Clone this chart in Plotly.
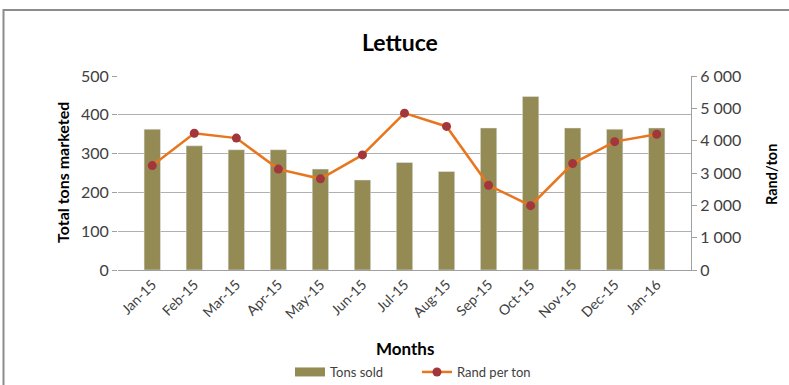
import plotly.graph_objects as go

months = ["Jan-15", "Feb-15", "Mar-15", "Apr-15", "May-15", "Jun-15", "Jul-15",
          "Aug-15", "Sep-15", "Oct-15", "Nov-15", "Dec-15", "Jan-16"]
tons_sold = [363, 320, 310, 310, 260, 232, 277, 254, 366, 447, 366, 363, 366]
rand_per_ton = [3230, 4230, 4080, 3120, 2820, 3560, 4850, 4440, 2620, 1990, 3290, 3970, 4200]
left_ticks = [0, 100, 200, 300, 400, 500]
right_ticks = [0, 1000, 2000, 3000, 4000, 5000, 6000]
right_ticktext = ["0", "1 000", "2 000", "3 000", "4 000", "5 000", "6 000"]

FONT = "Lato"
TXT = "#404040"
OLIVE = "#948A54"

fig = go.Figure()
fig.add_trace(go.Bar(x=months, y=tons_sold, name="Tons sold", marker_color=OLIVE,
                     width=0.39, yaxis="y", showlegend=False))
# legend proxy giving a wide rectangular swatch like the reference
fig.add_trace(go.Scatter(x=[None], y=[None], name="Tons sold", mode="lines",
                         line=dict(color=OLIVE, width=9), yaxis="y"))
fig.add_trace(go.Scatter(x=months, y=rand_per_ton, name="Rand per ton", yaxis="y2",
                         mode="lines+markers",
                         line=dict(color="#E8761E", width=2.5),
                         marker=dict(color="#A3363A", size=9)))

L, R, T, B = 118, 691, 76, 270
W, H = R - L, B - T

def px(x):
    return (x - L) / W

def py(y):
    return (B - y) / H

def ann(text, x, y, size, angle=0):
    return dict(text=text, x=px(x), y=py(y), xref="paper", yref="paper",
                xanchor="center", yanchor="middle", showarrow=False, textangle=angle,
                font=dict(size=size, color="black", family=FONT))

fig.update_layout(
    width=789, height=385,
    margin=dict(l=L, r=789 - R, t=T, b=385 - B, autoexpand=False),
    paper_bgcolor="white", plot_bgcolor="white",
    font=dict(family=FONT, color=TXT, size=14),
    showlegend=True,
    legend=dict(orientation="h", x=px(290), y=py(372), xanchor="left", yanchor="middle",
                font=dict(size=13, color=TXT), traceorder="normal", entrywidth=82,
                entrywidthmode="pixels"),
    xaxis=dict(tickangle=-45, tickfont=dict(size=14, color=TXT), showline=True,
               linecolor="#A0A0A0", ticks="", showgrid=False, automargin=False),
    yaxis=dict(range=[0, 500], tickvals=left_ticks, showgrid=True, gridcolor="#B0B0B0",
               gridwidth=1, zeroline=False, showline=False, ticks="outside", ticklen=5,
               tickcolor="#A0A0A0", tickfont=dict(size=16, color=TXT), automargin=False),
    yaxis2=dict(range=[0, 6000], tickvals=right_ticks, ticktext=right_ticktext,
                overlaying="y", side="right", showgrid=False, zeroline=False,
                showline=True, linecolor="#A0A0A0", ticks="outside", ticklen=5,
                tickcolor="#A0A0A0", tickfont=dict(size=16, color=TXT), automargin=False),
    bargap=0.5,
    annotations=[
        ann("<b>Lettuce</b>", 400, 42, 23),
        ann("<b>Total tons marketed</b>", 62, 173, 16, -90),
        ann("<b>Rand/ton</b>", 771, 175, 14.5, -90),
        ann("<b>Months</b>", 405, 348, 17),
    ],
    shapes=[
        dict(type="rect", xref="paper", yref="paper", x0=px(3.5), x1=px(800),
             y0=py(400), y1=py(10), line=dict(color="#8C8C8C", width=2)),
    ],
)

fig.write_html("out.html")
